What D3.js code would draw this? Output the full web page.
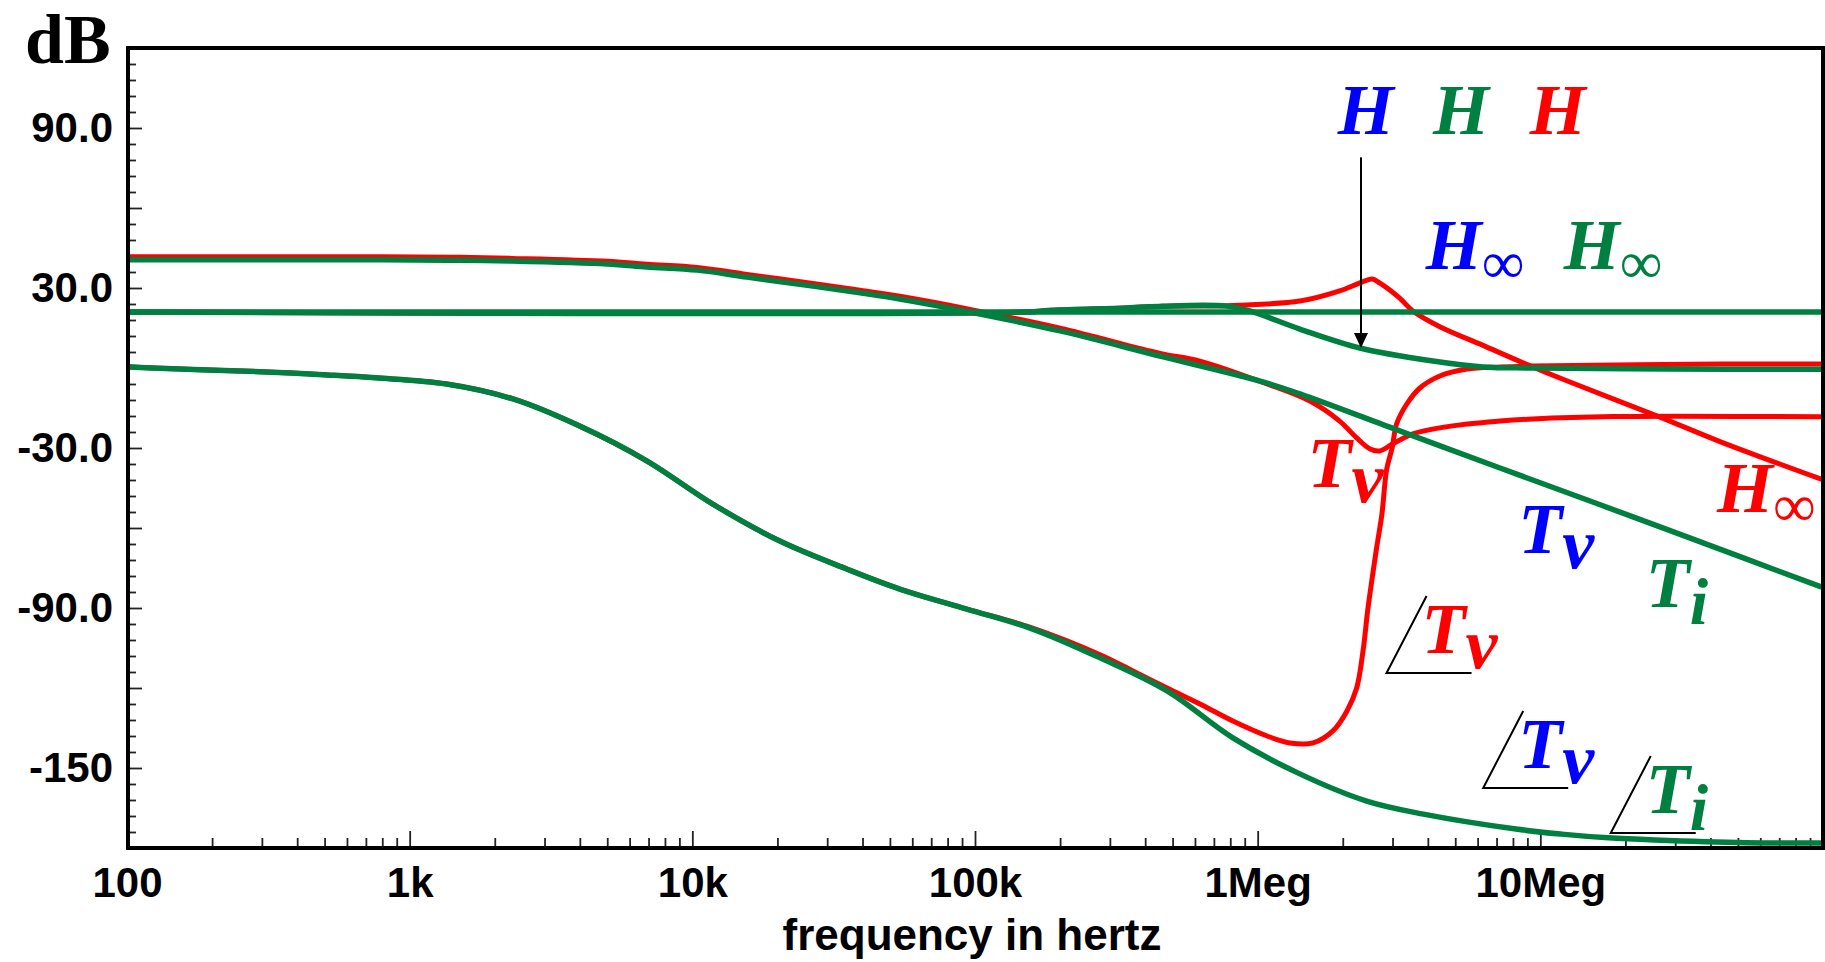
<!DOCTYPE html>
<html>
<head>
<meta charset="utf-8">
<script src="https://cdn.jsdelivr.net/npm/d3@7"></script>
<style>
  body { margin: 0; background: #fff; }
  svg { display: block; }
</style>
</head>
<body>
<script>
    // magnitudes in dB and phases in degrees share the same vertical axis
    const tiGreen = [[100,40.6],[800,40.6],[1500,40.4],[2300,40.1],[5000,39.0],[6900,37.9],[10400,36.7],[15600,34.1],
        [26700,30.7],[39200,28.2],[54200,25.9],[96000,21.0],[200000,13.9],[451000,4.5],[1020000,-4.9],[1410000,-9.7],
        [3180000,-23.6],[7200000,-37.5],[16200000,-51.2],[31600000,-62.6],[98000000,-82]];
    const tvRed = [[100,41.7],[800,41.7],[1500,41.5],[2300,41.1],[5000,40.0],[6900,38.9],[10400,37.7],[15600,35.1],
        [26700,31.7],[39200,29.2],[54200,26.9],[96000,22.0],[200000,14.9],[451000,5.5],[625000,2.6],[1080000,-6],
        [1530000,-12.4],[1950000,-19.9],[2240000,-26.2],[2500000,-30.4],[2700000,-31.1],[3000000,-28.5],[3540000,-24.7],
        [4900000,-21.7],[7200000,-19.9],[9400000,-19.1],[18000000,-18.2],[98000000,-18.3]];
    const hInfGreen = [[100,21.0],[98000000,21.0]];
    const hGreen = [[100,21.0],[150000,21.0],[189000,21.7],[344000,22.5],[462000,23.2],[777000,23.2],[938000,21.4],
        [1410000,14.6],[2300000,7.5],[4170000,2.6],[6270000,0.4],[9400000,0],[28000000,-0.4],[98000000,-0.5]];
    const hRed = [[100,21.0],[150000,21.0],[189000,21.7],[344000,22.5],[462000,23.2],[777000,23.3],[865000,23.5],
        [1410000,25.1],[1950000,28.9],[2300000,31.9],[2540000,33.4],[2700000,31.9],[3180000,26.2],[3540000,21.4],
        [4410000,15.5],[6270000,8.5],[8450000,2.5],[12400000,-4.8],[26500000,-18.4],[43200000,-27.6],[98000000,-41.6]];
    const phaseGreen = [[100,0.5],[123,0],[251,-1.1],[380,-1.9],[513,-2.6],[759,-3.7],[1350,-6],[2320,-11.6],
        [3980,-21.7],[6920,-34.9],[11800,-51],[20400,-64.9],[35200,-75.4],[54200,-82.9],[93500,-90.4],[160000,-97.9],
        [277000,-108.7],[478000,-121.1],[817000,-138.7],[1410000,-152.2],[2430000,-162.4],[3860000,-167.3],
        [8200000,-172.9],[11900000,-174.8],[17400000,-176.2],[25400000,-177],[53700000,-178],[98000000,-178.1]];
    const phaseRed = [[100,0.5],[123,0],[251,-1.1],[380,-1.9],[513,-2.6],[759,-3.7],[1350,-6],[2320,-11.6],
        [3980,-21.7],[6920,-34.9],[11800,-51],[20400,-64.9],[35200,-75.4],[54200,-82.9],[93500,-90.4],[160000,-97.5],
        [277000,-107.5],[362000,-113.6],[478000,-120],[625000,-126],[817000,-132.4],[1080000,-138],[1300000,-140.6],
        [1570000,-140.6],[1850000,-136],[2070000,-128.6],[2240000,-120],[2360000,-106],[2450000,-91],[2540000,-79],
        [2630000,-68],[2750000,-55],[2860000,-38],[2990000,-30],[3100000,-21],[3370000,-13.5],[3750000,-7.5],
        [4410000,-3],[5500000,-0.4],[7190000,0.4],[9400000,0.75],[43200000,1.5],[98000000,1.5]];

    const xDecades = [100, 1e3, 1e4, 1e5, 1e6, 1e7];
    const xTickLabels = ["100", "1k", "10k", "100k", "1Meg", "10Meg"];
    const yLabelValues = [90, 30, -30, -90, -150];
    const yTickLabels = ["90.0", "30.0", "-30.0", "-90.0", "-150"];

    const blue = "#0000ff", green = "#008040", red = "#ff0000";

    // curve names: [text, subscript, colour, freq, dB, angle sign]
    const labels = [
        ["H", "", blue, 1.92e6, 87.75, false],
        ["H", "", green, 4.17e6, 87.75, false],
        ["H", "", red, 9.18e6, 87.75, false],
        ["H", "\u221e", blue, 3.93e6, 37.1, false],
        ["H", "\u221e", green, 12.1e6, 37.1, false],
        ["T", "v", red, 1.5e6, -44.6, false],
        ["T", "v", blue, 8.35e6, -69.4, false],
        ["T", "i", green, 23.6e6, -89.6, false],
        ["H", "\u221e", red, 42.2e6, -54, false],
        ["T", "v", red, 3.8e6, -106.9, true],
        ["T", "v", blue, 8.35e6, -150, true],
        ["T", "i", green, 23.6e6, -166.9, true]
    ];
    const arrowFreq = 2.32e6, arrowFrom = 79, arrowTo = 7.5;

    const width = 1825, height = 962;
    const x0 = 127, x1 = 1823, y0 = 48, y1 = 848;

    const svg = d3.select("body").append("svg")
        .attr("width", width)
        .attr("height", height);

    const x = d3.scaleLog().domain([100, 1e8]).range([x0, x1]);
    const y = d3.scaleLinear().domain([-180, 120]).range([y1, y0]);

    svg.append("clipPath").attr("id", "plot")
        .append("rect").attr("x", x0).attr("y", y0).attr("width", x1 - x0).attr("height", y1 - y0);

    // y ticks inside the frame
    const yMajor = d3.range(-150, 120, 30);
    const yMinor = d3.range(-174, 120, 6).filter(d => d % 30 !== 0);
    svg.append("g")
        .attr("transform", `translate(${x0 + 2},0)`)
        .call(d3.axisRight(y).tickValues(yMinor).tickSize(7).tickFormat(""))
        .call(g => g.select(".domain").remove());
    svg.append("g")
        .attr("transform", `translate(${x0 + 2},0)`)
        .call(d3.axisRight(y).tickValues(yMajor).tickSize(13).tickFormat(""))
        .call(g => g.select(".domain").remove());
    svg.append("g")
        .attr("transform", `translate(${x0 + 1},0)`)
        .call(d3.axisLeft(y).tickValues(yLabelValues).tickSize(0).tickPadding(15)
            .tickFormat((d, i) => yTickLabels[i]))
        .call(g => g.select(".domain").remove())
        .selectAll("text")
        .attr("font-family", "Liberation Sans, Arial, sans-serif")
        .attr("font-weight", "bold")
        .attr("font-size", 42)
        .attr("fill", "#000");

    // x ticks pointing up from the bottom edge
    const xMinor = [];
    xDecades.forEach(d => { for (let m = 2; m <= 9; m++) xMinor.push(d * m); });
    svg.append("g")
        .attr("transform", `translate(0,${y1 - 2})`)
        .call(d3.axisTop(x).tickValues(xMinor).tickSize(8).tickFormat(""))
        .call(g => g.select(".domain").remove());
    svg.append("g")
        .attr("transform", `translate(0,${y1 - 2})`)
        .call(d3.axisTop(x).tickValues(xDecades.slice(1)).tickSize(15).tickFormat(""))
        .call(g => g.select(".domain").remove());
    svg.selectAll(".tick line").attr("stroke", "#222").attr("stroke-width", 1.8);
    svg.append("g")
        .attr("transform", `translate(0,${y1})`)
        .call(d3.axisBottom(x).tickValues(xDecades).tickSize(0).tickPadding(19)
            .tickFormat((d, i) => xTickLabels[i]))
        .call(g => g.select(".domain").remove())
        .selectAll("text")
        .attr("font-family", "Liberation Sans, Arial, sans-serif")
        .attr("font-weight", "bold")
        .attr("font-size", 42)
        .attr("fill", "#000");

    svg.append("text")
        .attr("x", (x0 + x1) / 2 - 3)
        .attr("y", 950)
        .attr("text-anchor", "middle")
        .attr("font-family", "Liberation Sans, Arial, sans-serif")
        .attr("font-weight", "bold")
        .attr("font-size", 44)
        .text("frequency in hertz");

    svg.append("text")
        .attr("x", 25)
        .attr("y", 63)
        .attr("font-family", "Liberation Serif, Times New Roman, serif")
        .attr("font-weight", "bold")
        .attr("font-size", 70)
        .text("dB");

    // curves
    const line = d3.line()
        .x(d => x(d[0]))
        .y(d => y(d[1]))
        .curve(d3.curveCatmullRom.alpha(0.5));
    const curves = svg.append("g").attr("clip-path", "url(#plot)").attr("fill", "none")
        .attr("stroke-linejoin", "round").attr("stroke-linecap", "round");
    [tvRed, hRed, phaseRed].forEach(s => {
        curves.append("path").attr("d", line(s)).attr("stroke", red).attr("stroke-width", 5);
    });
    [hInfGreen, tiGreen, hGreen, phaseGreen].forEach(s => {
        curves.append("path").attr("d", line(s)).attr("stroke", green).attr("stroke-width", 5.5);
    });

    // frame
    svg.append("rect")
        .attr("x", x0 + 1).attr("y", y0)
        .attr("width", x1 - x0 - 1).attr("height", y1 - y0)
        .attr("fill", "none").attr("stroke", "#000").attr("stroke-width", 4);

    // arrow to the H curve
    svg.append("line")
        .attr("x1", x(arrowFreq)).attr("x2", x(arrowFreq))
        .attr("y1", y(arrowFrom)).attr("y2", y(arrowTo) - 12)
        .attr("stroke", "#000").attr("stroke-width", 2);
    svg.append("path")
        .attr("d", `M${x(arrowFreq)},${y(arrowTo)} l-7,-15 l14,0 z`)
        .attr("fill", "#000");

    // curve names
    const lab = svg.append("g")
        .attr("font-family", "Liberation Serif, Times New Roman, serif")
        .attr("font-weight", "bold")
        .attr("font-style", "italic")
        .attr("font-size", 72);
    labels.forEach(([t, sub, c, f, db, angle]) => {
        const px = x(f), py = y(db);
        const txt = lab.append("text").attr("x", px).attr("y", py).attr("fill", c).text(t);
        if (sub === "\u221e") {
            txt.append("tspan").attr("dx", 0).attr("dy", 14)
                .attr("font-style", "normal").attr("font-weight", "normal")
                .attr("font-size", 60).text(sub);
        } else if (sub) {
            txt.append("tspan").attr("dx", 0).attr("dy", sub === "v" ? 15 : 17)
                .attr("font-size", sub === "v" ? 72 : 66).text(sub);
        }
        if (angle) {
            lab.append("path")
                .attr("d", `M${px + 5},${py - 57} L${px - 35},${py + 20} L${px + 50},${py + 20}`)
                .attr("fill", "none").attr("stroke", "#000").attr("stroke-width", 2);
        }
    });
</script>
</body>
</html>
